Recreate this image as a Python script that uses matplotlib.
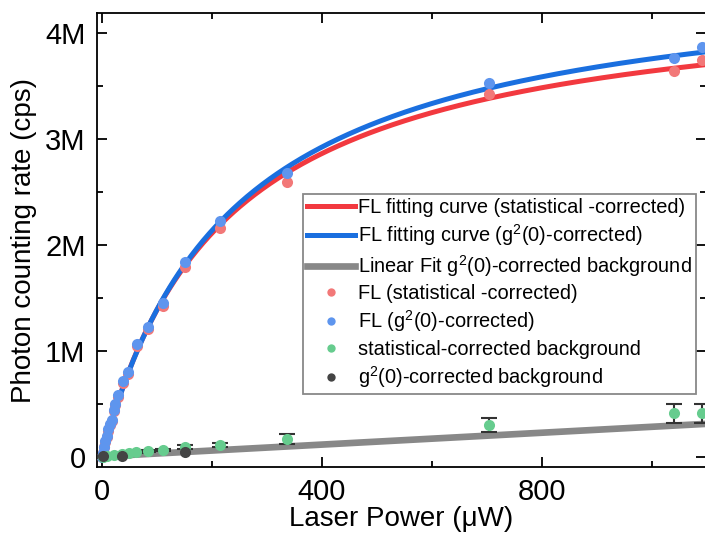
import numpy as np
import matplotlib.pyplot as plt
from matplotlib.ticker import MultipleLocator, FixedLocator

plt.rcParams['font.family'] = ['Liberation Sans', 'DejaVu Sans']
plt.rcParams['mathtext.fontset'] = 'custom'
plt.rcParams['mathtext.rm'] = 'Liberation Sans'
plt.rcParams['mathtext.it'] = 'Liberation Sans:italic'

# FL data (laser power in uW, counts in cps)
power_fl = [1, 3, 5, 7, 9, 12, 15, 18, 22, 25, 29, 39, 48, 64, 85, 111, 151, 216, 337, 705, 1040, 1091]
fl_stat = [0.0, 0.04e6, 0.09e6, 0.14e6, 0.19e6, 0.25e6, 0.30e6, 0.34e6, 0.43e6, 0.49e6, 0.57e6,
           0.70e6, 0.78e6, 1.05e6, 1.21e6, 1.425e6, 1.795e6, 2.163e6, 2.59e6, 3.425e6, 3.64e6, 3.75e6]
fl_g2 = [0.0, 0.04e6, 0.09e6, 0.15e6, 0.20e6, 0.26e6, 0.31e6, 0.35e6, 0.44e6, 0.50e6, 0.585e6,
         0.72e6, 0.80e6, 1.065e6, 1.225e6, 1.455e6, 1.837e6, 2.226e6, 2.676e6, 3.525e6, 3.767e6, 3.865e6]

# background data
power_bg = [2, 10, 22, 37, 50, 62, 84, 111, 151, 216, 337, 705, 1040, 1091]
bg_stat = [0.0, 0.01e6, 0.02e6, 0.03e6, 0.035e6, 0.045e6, 0.057e6, 0.066e6, 0.097e6, 0.113e6,
           0.17e6, 0.302e6, 0.412e6, 0.412e6]
bg_stat_err = [0.005e6, 0.005e6, 0.006e6, 0.007e6, 0.008e6, 0.009e6, 0.01e6, 0.012e6, 0.02e6,
               0.02e6, 0.047e6, 0.07e6, 0.09e6, 0.09e6]
power_bg_g2 = [2, 37, 151]
bg_g2 = [0.005e6, 0.012e6, 0.044e6]

# fit parameters: saturation I = Isat*P/(P+Psat), linear bg = a + b*P
isat_stat, psat_stat = 4.45e6, 222
isat_g2, psat_g2 = 4.64e6, 235
lin_a, lin_b = 5e3, 280

p = np.linspace(0, 1100, 400)

fig = plt.figure(figsize=(7.05, 5.41), dpi=100)
ax = fig.add_axes([96.7 / 705, 1 - 467.3 / 541, (706 - 96.7) / 705, (467.3 - 13.3) / 541])

ax.plot(p, isat_stat * p / (p + psat_stat), color='#F2393F', lw=3.6,
        label='FL fitting curve (statistical -corrected)', zorder=2)
ax.plot(p, isat_g2 * p / (p + psat_g2), color='#1A6FDF', lw=3.6,
        label='FL fitting curve (g$^2$(0)-corrected)', zorder=2)
ax.plot(p, lin_a + lin_b * p, color='#888888', lw=4.8,
        label='Linear Fit g$^2$(0)-corrected background', zorder=2)

ax.plot(power_fl, fl_stat, 'o', color='#F27878', ms=8, mew=0,
        label='FL (statistical -corrected)', zorder=3)
ax.plot(power_fl, fl_g2, 'o', color='#5E95EE', ms=8, mew=0,
        label='FL (g$^2$(0)-corrected)', zorder=3)
ax.errorbar(power_bg, bg_stat, yerr=bg_stat_err, fmt='none',
            ecolor='#333333', elinewidth=1.5, capsize=6, capthick=1.5, zorder=3)
ax.plot(power_bg, bg_stat, 'o', color='#66CC8E', ms=8, mew=0,
        label='statistical-corrected background', zorder=3)
ax.plot(power_bg_g2, bg_g2, 'o', color='#444444', ms=8, mew=0,
        label='g$^2$(0)-corrected background', zorder=4)

ax.set_xlim(-9, 1099)
ax.set_ylim(-0.097e6, 4.186e6)
ax.xaxis.set_major_locator(MultipleLocator(400))
ax.xaxis.set_minor_locator(MultipleLocator(200))
ax.yaxis.set_major_locator(FixedLocator([0, 1e6, 2e6, 3e6, 4e6]))
ax.yaxis.set_minor_locator(MultipleLocator(0.5e6))
ax.set_yticklabels(['0', '1M', '2M', '3M', '4M'])
ax.tick_params(which='both', direction='in', top=True, right=True, labelsize=21, width=1.3, pad=8)
ax.tick_params(which='major', length=7)
ax.tick_params(which='minor', length=4)
for s in ax.spines.values():
    s.set_linewidth(1.3)

ax.set_xlabel('Laser Power (μW)', fontsize=20, labelpad=0)
ax.set_ylabel('Photon counting rate (cps)', fontsize=20, labelpad=6)

leg = ax.legend(loc='upper left', bbox_to_anchor=((303 - 96.7) / 609.3, (467.3 - 194) / 454),
                borderaxespad=0, fontsize=14.4, numpoints=1, markerscale=0.75, handlelength=2.4,
                handletextpad=0.15, labelspacing=0.26, borderpad=0.2, fancybox=False, framealpha=1)
leg.get_frame().set_edgecolor('#888888')
leg.get_frame().set_linewidth(1.3)

fig.savefig('out.png', dpi=100)
